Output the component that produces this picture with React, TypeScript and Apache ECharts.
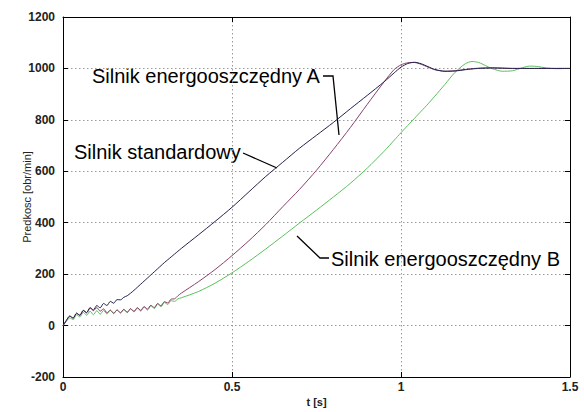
import React, { useEffect, useRef } from "react";
import * as echarts from "echarts";

const timeS = [
  0, 0.01, 0.02, 0.03, 0.04, 0.05, 0.06, 0.07, 0.08, 0.09,
  0.1, 0.11, 0.12, 0.13, 0.14, 0.15, 0.16, 0.17, 0.18, 0.19,
  0.2, 0.21, 0.22, 0.23, 0.24, 0.25, 0.26, 0.27, 0.28, 0.29,
  0.3, 0.31, 0.32, 0.33, 0.34, 0.35,
  0.4, 0.45, 0.5, 0.55, 0.6, 0.65, 0.7, 0.75, 0.8, 0.85, 0.9, 0.95, 0.98,
  1.0, 1.02, 1.04, 1.06, 1.08, 1.1, 1.13, 1.16, 1.19, 1.21, 1.23, 1.25, 1.27,
  1.3, 1.33, 1.36, 1.38, 1.4, 1.43, 1.46, 1.5,
];

const standardRpm = [
  0, 20, 37, 29, 48, 40, 59, 50, 70, 61,
  78, 69, 86, 78, 94, 87, 101, 100, 110, 116,
  126, 137, 149, 161, 173, 185, 197, 209, 221, 233,
  245, 256, 267, 278, 289, 300,
  352, 405, 460, 520, 580, 635, 690, 740, 790, 843, 895, 948, 983,
  1005, 1019, 1024, 1018, 1007, 996, 989, 990, 995, 998, 1000, 1001, 1002,
  1001, 1000, 1000, 1000, 1000, 1000, 1000, 1000,
];

const motorARpm = [
  0, 20, 37, 29, 48, 40, 59, 50, 68, 58,
  70, 56, 65, 50, 60, 48, 61, 50, 63, 52,
  66, 55, 70, 59, 74, 64, 79, 70, 86, 77,
  93, 88, 103, 104, 116, 126,
  170, 218, 272, 330, 393, 462, 530, 604, 685, 770, 860, 948, 996,
  1014, 1022, 1023, 1016, 1005, 995, 989, 991, 996, 999, 1001, 1002, 1002,
  1001, 1000, 1000, 1000, 1000, 1000, 1000, 1000,
];

const motorBRpm = [
  0, 16, 30, 23, 42, 34, 52, 40, 56, 42,
  58, 44, 59, 45, 60, 46, 61, 48, 63, 50,
  65, 53, 68, 56, 72, 60, 77, 66, 83, 73,
  90, 82, 97, 94, 104, 108,
  132, 165, 205, 250, 298, 348, 399, 449, 500, 553, 612, 678, 721,
  750, 778, 806, 834, 862, 892, 938, 985, 1018, 1027, 1023, 1011, 999,
  989, 991, 1003, 1009, 1008, 1002, 999, 1000,
];

const xTicks = { min: 0, max: 1.5, interval: 0.5 };
const yTicks = { min: -200, max: 1200, interval: 200 };

const seriesNames = ["Silnik energooszczędny B", "Silnik energooszczędny A", "Silnik standardowy"];

const pairs = (vals: number[]) => timeS.map((t, i) => [t, vals[i]]);

export default function App() {
  const ref = useRef<HTMLDivElement>(null);
  useEffect(() => {
    if (!ref.current) return;
    const chart = echarts.init(ref.current, undefined, { renderer: "svg" });
    const font = "'Liberation Sans', Arial, sans-serif";
    const gridLine = { show: true, lineStyle: { color: "#9a9a9a", type: [1.5, 2.5] as any, width: 1 } };
    const axisLine = { show: true, onZero: false, lineStyle: { color: "#000", width: 1 } };
    const tick = { show: true, inside: true, length: 5, lineStyle: { color: "#000" } };
    const label = {
      color: "#222",
      fontSize: 12,
      fontWeight: "bold" as const,
      fontFamily: font,
      formatter: (v: number) => String(v),
    };
    chart.setOption({
      animation: false,
      backgroundColor: "#fff",
      grid: { left: 63, right: 14, top: 17, bottom: 28, containLabel: false },
      xAxis: [
        {
          type: "value",
          ...xTicks,
          axisLine,
          axisTick: tick,
          axisLabel: { ...label, margin: 4 },
          splitLine: gridLine,
          name: "t [s]",
          nameLocation: "middle",
          nameGap: 19,
          nameMoveOverlap: false,
          nameTextStyle: { color: "#222", fontSize: 11, fontWeight: "bold", fontFamily: font },
        },
        {
          type: "value",
          position: "top",
          ...xTicks,
          axisLine,
          axisTick: tick,
          axisLabel: { show: false },
          splitLine: { show: false },
        },
      ],
      yAxis: [
        {
          type: "value",
          ...yTicks,
          axisLine,
          axisTick: tick,
          axisLabel: { ...label, margin: 8 },
          splitLine: gridLine,
          name: "Predkosc [obr/min]",
          nameLocation: "middle",
          nameGap: 31,
          nameMoveOverlap: false,
          nameTextStyle: { color: "#222", fontSize: 11, fontFamily: font },
        },
        {
          type: "value",
          position: "right",
          ...yTicks,
          axisLine,
          axisTick: tick,
          axisLabel: { show: false },
          splitLine: { show: false },
        },
      ],
      series: [
        {
          name: seriesNames[0],
          type: "line",
          data: pairs(motorBRpm),
          showSymbol: false,
          smooth: 0.25,
          lineStyle: { color: "#5cbf5c", width: 1 },
        },
        {
          name: seriesNames[1],
          type: "line",
          data: pairs(motorARpm),
          showSymbol: false,
          smooth: 0.25,
          lineStyle: { color: "#8a3f6a", width: 1 },
        },
        {
          name: seriesNames[2],
          type: "line",
          data: pairs(standardRpm),
          showSymbol: false,
          smooth: 0.25,
          lineStyle: { color: "#22224f", width: 1 },
        },
      ],
      graphic: [
        {
          type: "text",
          x: 92,
          y: 76,
          style: { text: seriesNames[1], font: `20px ${font}`, fill: "#000", verticalAlign: "middle" },
        },
        {
          type: "polyline",
          shape: { points: [[323, 76], [333, 76], [339, 135]] },
          style: { stroke: "#000", lineWidth: 1.3, fill: "none" },
        },
        {
          type: "text",
          x: 74,
          y: 152,
          style: { text: seriesNames[2], font: `20px ${font}`, fill: "#000", verticalAlign: "middle" },
        },
        {
          type: "polyline",
          shape: { points: [[243, 153], [277, 168]] },
          style: { stroke: "#000", lineWidth: 1.3, fill: "none" },
        },
        {
          type: "text",
          x: 331,
          y: 259,
          style: { text: seriesNames[0], font: `20px ${font}`, fill: "#000", verticalAlign: "middle" },
        },
        {
          type: "polyline",
          shape: { points: [[297, 236], [320, 258], [329, 258]] },
          style: { stroke: "#000", lineWidth: 1.3, fill: "none" },
        },
      ],
    });
    return () => chart.dispose();
  }, []);
  return (
    <div
      ref={ref}
      style={{ position: "fixed", left: 0, top: 0, width: 584, height: 412, background: "#fff" }}
    />
  );
}
